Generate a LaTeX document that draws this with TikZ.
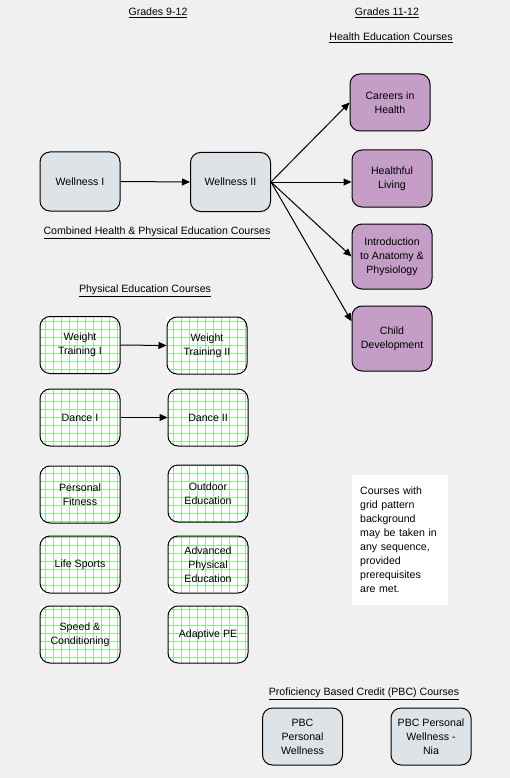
\documentclass[tikz,border=0pt]{standalone}
\usepackage{fontspec}
\setmainfont{Liberation Sans}
\usetikzlibrary{arrows.meta}
\definecolor{bgpaper}{RGB}{240,240,240}
\definecolor{wellfill}{RGB}{221,227,230}
\definecolor{healthfill}{RGB}{196,158,198}
\definecolor{gridgreen}{rgb}{0.45,0.95,0.45}
\tikzset{
  course/.style={draw=black, line width=1pt, rounded corners=10pt,
    minimum width=80pt, minimum height=57pt, align=center,
    font=\fontsize{10.6}{14}\selectfont, inner sep=1pt},
  wellbox/.style={course, fill=wellfill},
  healthbox/.style={course, fill=healthfill},
  gridbox/.style={course},
  gridbg/.style={course, fill=gridgreen, draw=none},
  heading/.style={font=\fontsize{10.6}{13}\selectfont, inner sep=0pt},
  conn/.style={-{Triangle[length=8pt,width=7pt]}, line width=1pt, draw=black},
}
% #1 name, #2 cx, #3 cy, #4 text
\newcommand\mygridnode[4]{%
  \pgfmathsetmacro\gL{#2-40}\pgfmathsetmacro\gR{#2+40}%
  \pgfmathsetmacro\gT{#3-28.5}\pgfmathsetmacro\gB{#3+28.5}%
  \pgfmathtruncatemacro\imin{floor((\gL-53)/8)+1}%
  \pgfmathtruncatemacro\imax{ceil((\gR-46)/8)-1}%
  \pgfmathtruncatemacro\jmin{floor((\gT-329)/8)+1}%
  \pgfmathtruncatemacro\jmax{ceil((\gB-322)/8)-1}%
  \node[gridbg] (#1bg) at (#2,#3) {};
  \path[fill=white] \foreach \i in {\imin,...,\imax}{\foreach \j in {\jmin,...,\jmax}{
     ({max(\gL,46+8*\i)},{max(\gT,322+8*\j)}) rectangle ({min(\gR,53+8*\i)},{min(\gB,329+8*\j)})}};
  \node[gridbox] (#1) at (#2,#3) {#4};
}
\begin{document}
\begin{tikzpicture}[x=1pt,y=-1pt]
\useasboundingbox (0,0) rectangle (510,778);
\path[fill=bgpaper] (0,0) rectangle (510,778);

% headings
\node[heading] (g912) at (158,13) {\underline{Grades 9-12}};
\node[heading] (g1112) at (387,13) {\underline{Grades 11-12}};
\node[heading] (hec) at (391,38) {\underline{Health Education Courses}};
\node[heading] (chpe) at (157,233) {\underline{Combined Health \& Physical Education Courses}};
\node[heading] (pec) at (145,291) {\underline{Physical Education Courses}};
\node[heading] (pbc) at (364,694) {\underline{Proficiency Based Credit (PBC) Courses}};

% combined
\node[wellbox, minimum height=59pt] (w1) at (80,181.5) {Wellness I};
\node[wellbox, minimum height=59pt] (w2) at (230.5,182) {Wellness II};

% health
\node[healthbox] (car) at (390,102.5) {Careers in\\Health};
\node[healthbox] (heal) at (392,178.5) {Healthful\\Living};
\node[healthbox, minimum height=65pt] (anat) at (392,256.5) {Introduction\\to Anatomy \&\\Physiology};
\node[healthbox, minimum height=65pt] (child) at (392,338.5) {Child\\Development};

% PE
\mygridnode{wt1}{80}{345}{Weight\\Training I}
\mygridnode{wt2}{207}{345.5}{Weight\\Training II}
\mygridnode{d1}{80}{417.5}{Dance I}
\mygridnode{d2}{208}{417.5}{Dance II}
\mygridnode{pf}{80}{494.5}{Personal\\Fitness}
\mygridnode{oe}{208}{493.5}{Outdoor\\Education}
\mygridnode{ls}{80}{564.5}{Life Sports}
\mygridnode{ape}{208}{564.5}{Advanced\\Physical\\Education}
\mygridnode{sc}{80}{634.5}{Speed \&\\Conditioning}
\mygridnode{adp}{208}{634.5}{Adaptive PE}

% PBC
\node[wellbox] (pbc1) at (302.5,736.5) {PBC\\Personal\\Wellness};
\node[wellbox] (pbc2) at (431,736.5) {PBC Personal\\Wellness -\\Nia};

% note
\node[fill=white, anchor=north west, minimum width=96pt, minimum height=130pt,
  text width=80pt, inner xsep=8pt, align=left,
  font=\fontsize{10.6}{14}\selectfont] (note) at (352,475)
  {Courses with\\grid pattern\\background\\may be taken in\\any sequence,\\provided\\prerequisites\\are met.};

% connectors
\draw[conn] (w1.east) -- (w2.west);
\draw[conn] (w2.east) -- (car.west);
\draw[conn] (w2.east) -- (w2.east -| heal.west);
\draw[conn] (w2.east) -- (anat.west);
\draw[conn] (w2.east) -- (child.157);
\draw[conn] (wt1.east) -- (wt2.west);
\draw[conn] (d1.east) -- (d2.west);
\end{tikzpicture}
\end{document}
